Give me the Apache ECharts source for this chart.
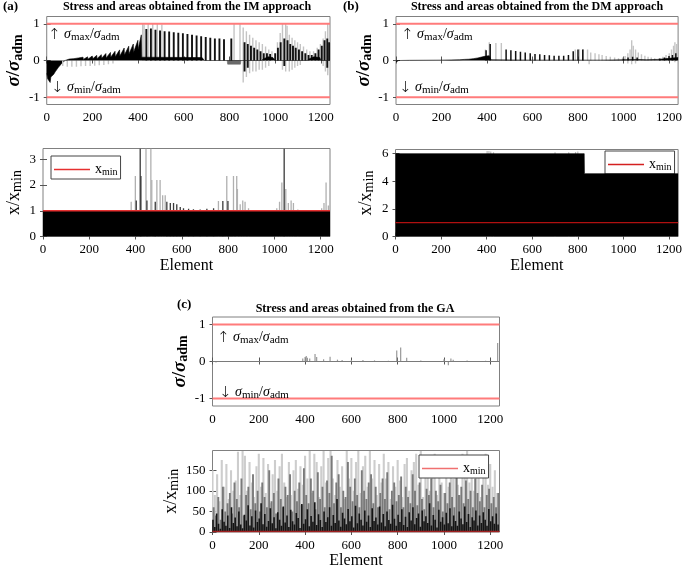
<!DOCTYPE html>
<html><head><meta charset="utf-8">
<script src="https://cdn.jsdelivr.net/npm/echarts@6/dist/echarts.min.js"></script>
<style>html,body{margin:0;padding:0;background:#fff}#c{width:685px;height:570px}</style>
</head><body><div id="c"></div>
<script>
// ---------------- DATA ----------------
const elemRange = [0, 1240];
const xTicks = [0, 200, 400, 600, 800, 1000, 1200];
const stressTicks = [-1, 0, 1];
const aAreaTicks = [0, 1, 2, 3];
const bAreaTicks = [0, 2, 4, 6];
const cAreaTicks = [0, 50, 100, 150];
const sigmaLimits = [1, -1];
const xMinRatio = 1;

// (a) IM approach - stress
const aTopNegArea = [[0,-0.35],[4,-0.5],[10,-0.55],[15,-0.6],[18,-0.45],[25,-0.5],[30,-0.38],[38,-0.3],[45,-0.25],[52,-0.18],[60,-0.12],[68,-0.06],[75,-0.02],[80,0]];
const aTopBlackArea = [[80,0],[82,0.005],[99,0.04],[100,0.01],[119,0.05],[120,0.015],[139,0.07],[140,0.02],[159,0.09],[160,0.03],[179,0.1],[180,0.035],[199,0.12],[200,0.04],[219,0.14],[220,0.05],[239,0.16],[240,0.06],[259,0.19],[260,0.07],[279,0.22],[280,0.09],[299,0.25],[300,0.1],[319,0.29],[320,0.12],[339,0.34],[340,0.15],[359,0.39],[360,0.18],[379,0.45],[380,0.22],[399,0.55],[400,0.3],[414,0.7],[416,0.09],[680,0.08],[690,0],[940,0],[950,0.05],[970,0.1],[990,0.08],[1000,0],[1140,0],[1150,0.05],[1170,0.1],[1195,0.08],[1200,0],[1240,0]];
const aTopDarkNegArea = [[790,0],[792,-0.1],[848,-0.1],[850,0]];
const aTopBlackSpikes = [[436,0.86],[456,0.87],[476,0.84],[496,0.82],[516,0.8],[536,0.79],[556,0.77],[576,0.76],[596,0.74],[616,0.72],[636,0.7],[656,0.68],[676,0.66],[696,0.64],[716,0.62],[736,0.6],[756,0.6],[776,0.58],[808,0.6],[866,0.5],[880,0.45],[894,0.4],[908,0.35],[922,0.3],[936,0.25],[950,0.2],[964,0.2],[978,0.18],[1000,0.2],[1012,0.35],[1024,0.5],[1040,0.6],[1054,0.55],[1066,0.45],[1078,0.4],[1090,0.35],[1104,0.3],[1118,0.25],[1132,0.2],[1146,0.15],[1160,0.15],[1176,0.2],[1190,0.3],[1204,0.4],[1216,0.55],[1228,0.6],[1236,0.5],[866,-0.3],[880,-0.2],[1040,-0.15],[1228,-0.2]];
const aTopGraySpikes = [[420,1.0],[426,0.98],[444,1.0],[464,1.0],[484,1.0],[504,0.98],[820,1.0],[846,1.0],[860,0.9],[874,0.8],[888,0.7],[902,0.62],[916,0.55],[930,0.5],[944,0.45],[958,0.38],[972,0.3],[986,0.25],[1010,0.5],[1022,0.75],[1032,1.0],[1046,1.0],[1052,0.95],[1062,0.7],[1074,0.62],[1086,0.55],[1098,0.5],[1110,0.45],[1124,0.38],[1138,0.3],[1152,0.25],[1168,0.25],[1184,0.35],[1198,0.45],[1210,0.6],[1220,0.8],[1230,1.0],[1238,0.9],
  [70,-0.15],[90,-0.17],[110,-0.17],[130,-0.17],[150,-0.16],[170,-0.15],[190,-0.15],[210,-0.14],[230,-0.13],[250,-0.12],[270,-0.1],[290,-0.08],
  [860,-0.6],[874,-0.45],[888,-0.35],[902,-0.3],[916,-0.3],[930,-0.25],[944,-0.25],[958,-0.2],[972,-0.15],[1032,-0.25],[1046,-0.3],[1062,-0.3],[1074,-0.25],[1086,-0.2],[1098,-0.15],[1110,-0.12],[1210,-0.15],[1220,-0.3],[1230,-0.4],[1238,-0.35]];
// (a) IM approach - areas
const aBotArea = [[0,1],[1240,1]];
const aBotGraySpikes = [[381,1.35],[399,2.35],[445,3.42],[466,3.42],[470,2.2],[492,2.2],[506,2.2],[517,1.6],[528,1.6],[758,1.38],[794,2.35],[823,2.35],[837,2.35],[840,1.85],[852,1.25],[863,1.4],[873,1.35],[888,1.1],[1010,1.1],[1022,1.35],[1032,2.1],[1049,1.85],[1060,1.3],[1072,1.4],[1082,1.3],[1101,1.05],[1204,1.1],[1214,1.3],[1223,2.1],[1233,1.2]];
const aBotDarkSpikes = [[403,1.4],[420,3.42],[423,2.35],[449,1.4],[485,1.35],[535,1.35],[550,1.3],[564,1.3],[578,1.25],[593,1.15],[607,1.1],[629,1.08],[650,1.06],[679,1.05],[708,1.08],[737,1.1],[777,1.38],[799,1.38],[1042,3.42]];

// (b) DM approach - stress
const bTopBlackArea = [[0,-0.04],[8,-0.05],[12,0],[60,0.005],[200,0.01],[280,0.02],[300,0.03],[320,0.035],[340,0.05],[360,0.07],[380,0.1],[395,0.12],[410,0.13],[415,0.14],[418,0.02],[600,0.01],[900,0.01],[1000,0.02],[1060,0.03],[1100,0.02],[1150,0.03],[1200,0.06],[1240,0.08]];
const bTopBlackSpikes = [[396,0.28],[414,0.45],[484,0.3],[505,0.28],[526,0.26],[547,0.24],[568,0.22],[590,0.2],[611,0.18],[632,0.17],[653,0.15],[674,0.14],[695,0.13],[716,0.13],[737,0.13],[758,0.15],[779,0.25],[800,0.3],[821,0.3],[1000,0.05],[1020,0.08],[1040,0.1],[1060,0.08],[1160,0.05],[1180,0.08],[1200,0.12],[1215,0.15],[1230,0.2]];
const bTopGraySpikes = [[393,0.3],[410,0.5],[439,0.48],[463,0.48],[788,0.3],[806,0.31],[823,0.31],[842,0.3],[856,0.22],[875,0.2],[892,0.17],[906,0.15],[924,0.12],[942,0.1],[961,0.08],[978,0.06],[996,0.08],[1007,0.12],[1019,0.2],[1029,0.3],[1036,0.55],[1043,0.4],[1053,0.3],[1065,0.22],[1079,0.17],[1094,0.13],[1108,0.1],[1122,0.08],[1137,0.06],[1158,0.07],[1173,0.1],[1187,0.15],[1201,0.2],[1211,0.3],[1220,0.4],[1226,0.5],[1234,0.45],[849,-0.1],[1019,-0.08],[1036,-0.1],[1053,-0.08],[1226,-0.05]];
// (b) DM approach - areas
const bBotArea = [[0,6],[828,6],[829,4.55],[1240,4.55]];
const bBotGraySpikes = [[402,6.2],[410,6.2],[418,6.15],[430,6.1],[700,6.1],[760,6.1],[790,6.12],[800,6.15]];

// (c) GA - stress
const cTopSpikes = [[15,-0.03],[120,0.01],[250,0.01],[390,0.08],[400,0.12],[405,0.15],[410,0.1],[420,0.08],[443,0.2],[450,0.12],[480,0.06],[508,0.13],[540,0.05],[560,0.04],[600,0.04],[650,0.04],[700,0.03],[760,0.02],[796,0.3],[813,0.38],[839,0.1],[900,0.03],[1000,0.06],[1019,-0.1],[1030,0.08],[1040,0.05],[1100,0.03],[1180,0.02],[1232,0.5]];
// (c) GA - areas (sampled elements: start + i*step)
const cLightStart = 0, cLightStep = 10;
const cLightVals = [150,90,140,75,175,110,165,80,150,100,
 125,195,90,197,185,100,170,120,85,160,
 190,110,180,95,165,70,140,175,100,160,
 190,120,85,170,90,150,175,105,160,115,
 185,130,197,95,190,170,85,160,197,120,
 180,197,130,90,175,110,160,80,197,130,
 180,100,170,197,95,160,185,110,197,130,
 175,90,165,120,190,130,170,80,160,110,
 175,125,85,165,180,100,150,170,190,115,
 197,85,160,175,100,150,190,90,165,120,
 95,170,110,160,130,185,115,90,190,160,
 197,120,175,100,150,170,85,160,190,115,
 165,110,150,95];
const cMidStart = 5, cMidStep = 10;
const cMidVals = [60,40,85,30,110,50,70,95,45,120,
 80,60,130,40,90,110,55,140,70,100,
 50,120,85,60,150,75,95,45,130,80,
 60,110,90,140,50,100,75,120,65,155,
 90,70,130,100,55,145,80,110,60,125,
 95,185,70,120,140,60,100,85,170,110,
 75,130,90,60,150,100,80,120,140,70,
 110,60,95,130,80,145,55,100,120,75,
 90,135,60,110,85,70,140,100,65,120,
 80,55,105,90,130,60,100,75,115,50,
 95,70,120,85,60,140,90,110,70,125,
 80,100,60,130,95,75,115,60,90,105,
 70,85,60,95];
const cDarkStart = 2, cDarkStep = 8;
const cDarkVals = [30,12,45,20,8,55,25,15,40,10,
 60,22,35,14,50,18,9,42,28,65,
 16,38,11,52,24,33,70,19,44,13,
 27,58,21,36,9,48,30,15,62,23,
 40,12,54,26,18,46,34,10,68,20,
 31,55,14,39,25,72,17,43,29,12,
 50,24,36,60,15,41,22,80,28,13,
 47,33,19,56,26,38,11,64,21,45,
 30,16,52,25,40,12,58,27,35,18,
 62,23,44,14,50,29,20,66,32,15,
 42,24,55,17,37,12,48,28,60,19,
 34,45,13,52,26,38,22,70,16,41,
 30,11,54,25,36,18,47,21,58,14,
 40,27,15,50,33,19,62,24,44,12,
 36,28,52,16,40,22,48,30,15,56,
 26,38,20,45,18];

// ---------------- CHART ----------------
const FONT = 'Liberation Serif';
const toPairs = (vals, start, step) => vals.map((v, i) => [start + i * step, v]);
const hline = (y) => [[elemRange[0], y], [elemRange[1], y]];

const grids = [
  {left:42.5, top:16.5, width:287.5, height:88},
  {left:42.5, top:148.5, width:287.5, height:88},
  {left:396, top:16.5, width:286, height:88},
  {left:395.5, top:149.5, width:287, height:87},
  {left:212.5, top:317, width:287, height:89},
  {left:212.5, top:450.5, width:287, height:87}
].map(g => Object.assign(g, {show:true, borderColor:'#808080', borderWidth:1, backgroundColor:'#fff'}));

const subRich = (mainSize, italic, bold) => ({
  s:{fontSize:mainSize, fontFamily:FONT, fontStyle:italic?'italic':'normal', fontWeight:bold?'bold':'normal', lineHeight:mainSize+1, verticalAlign:'top', color:'#000'},
  n:{fontSize:mainSize, fontFamily:FONT, lineHeight:mainSize+1, verticalAlign:'top', color:'#000', fontWeight:bold?'bold':'normal'},
  sub:{fontSize:Math.round(mainSize*0.75), fontFamily:FONT, lineHeight:Math.round(mainSize*0.75), padding:[Math.round(mainSize*0.5),0,0,0], verticalAlign:'bottom', color:'#000', fontWeight:bold?'bold':'normal'}
});
const stressName = '{s|σ}{n|/}{s|σ}{sub|adm}';
const areaName = '{n|x/x}{sub|min}';
const plainNum = v => String(v);

function xAxis(i, named) {
  return {type:'value', gridIndex:i, min:elemRange[0], max:elemRange[1], position:'bottom',
    axisLine:{show:false}, splitLine:{show:false},
    axisTick:{show:true, inside:true, length:4, customValues:xTicks, lineStyle:{color:'#555'}},
    axisLabel:{customValues:xTicks, formatter:plainNum, fontFamily:FONT, fontSize:13, color:'#000', margin:7},
    name: named ? 'Element' : '', nameLocation:'middle', nameGap:21,
    nameTextStyle:{fontFamily:FONT, fontSize:16, color:'#000'}};
}
function xAxisTop(i) {
  return {type:'value', gridIndex:i, min:elemRange[0], max:elemRange[1], position:'top',
    axisLine:{show:false}, splitLine:{show:false}, axisLabel:{show:false},
    axisTick:{show:true, inside:true, length:3, customValues:xTicks, lineStyle:{color:'#555'}}};
}
function yAxis(i, min, max, ticks, name, gap, isStress) {
  return {type:'value', gridIndex:i, min, max, position:'left',
    axisLine:{show:false}, splitLine:{show:false},
    axisTick:{show:true, inside:true, length:4, customValues:ticks, lineStyle:{color:'#555'}},
    axisLabel:{customValues:ticks, formatter:plainNum, fontFamily:FONT, fontSize:13, color:'#000', margin:7},
    name, nameLocation:'middle', nameRotate:90, nameGap:gap,
    nameTextStyle:{rich: isStress ? subRich(19,true,true) : subRich(18,false,false)}};
}
function yAxisRight(i, min, max, ticks) {
  return {type:'value', gridIndex:i, min, max, position:'right',
    axisLine:{show:false}, splitLine:{show:false}, axisLabel:{show:false},
    axisTick:{show:true, inside:true, length:3, customValues:ticks, lineStyle:{color:'#555'}}};
}

function spikes(ax, data, color, w, z) {
  return {type:'custom', xAxisIndex:ax, yAxisIndex:ax, data, clip:true, z:z||2, silent:true,
    encode:{x:0, y:1},
    renderItem:(params, api) => {
      const a = api.coord([api.value(0), 0]);
      const b = api.coord([api.value(0), api.value(1)]);
      return {type:'rect', shape:{x:a[0]-w/2, y:Math.min(a[1],b[1]), width:w, height:Math.abs(a[1]-b[1])}, style:{fill:color}};
    }};
}
function area(ax, data, color, z) {
  return {type:'line', xAxisIndex:ax, yAxisIndex:ax, data, symbol:'none', silent:true, z:z||1,
    lineStyle:{width:0.6, color}, areaStyle:{color, opacity:1}};
}
function limitLine(ax, y, color, w, name) {
  return {type:'line', name, xAxisIndex:ax, yAxisIndex:ax, data:hline(y), symbol:'none', silent:true, z:6,
    lineStyle:{width:w, color}, itemStyle:{color}};
}

const series = [
  // a top
  area(0, aTopNegArea, '#000'), area(0, aTopBlackArea, '#000', 4), area(0, aTopDarkNegArea, '#6a6a6a'),
  spikes(0, aTopGraySpikes, '#c4c4c4', 1.4, 2), spikes(0, aTopBlackSpikes, '#111', 1.9, 3),
  limitLine(0, sigmaLimits[0], '#ff7b7b', 2), limitLine(0, sigmaLimits[1], '#ff7b7b', 2),
  // a bottom
  area(1, aBotArea, '#000', 5),
  spikes(1, aBotGraySpikes, '#b0b0b0', 1.3, 2), spikes(1, aBotDarkSpikes, '#3a3a3a', 1.3, 3),
  limitLine(1, xMinRatio, '#e63030', 1.5, 'xa'),
  // b top
  area(2, bTopBlackArea, '#000', 4),
  spikes(2, bTopGraySpikes, '#c4c4c4', 1.4, 2), spikes(2, bTopBlackSpikes, '#111', 1.5, 3),
  limitLine(2, sigmaLimits[0], '#ff7b7b', 2), limitLine(2, sigmaLimits[1], '#ff7b7b', 2),
  // b bottom
  area(3, bBotArea, '#000', 5), spikes(3, bBotGraySpikes, '#bbb', 1.2, 2),
  limitLine(3, xMinRatio, '#b01010', 1.2, 'xb'),
  // c top
  limitLine(4, 0, '#7a7a7a', 1), spikes(4, cTopSpikes, '#999', 1.2, 3),
  limitLine(4, sigmaLimits[0], '#ff7b7b', 2), limitLine(4, sigmaLimits[1], '#ff7b7b', 2),
  // c bottom
  spikes(5, toPairs(cLightVals, cLightStart, cLightStep), '#cdcdcd', 2.1, 2),
  spikes(5, toPairs(cMidVals, cMidStart, cMidStep), '#7a7a7a', 1.9, 3),
  spikes(5, toPairs(cDarkVals, cDarkStart, cDarkStep), '#141414', 1.6, 4),
  limitLine(5, xMinRatio, '#a02020', 1.5, 'xc')
];

const legendRich = {
  x:{fontSize:14, fontFamily:FONT, lineHeight:15, verticalAlign:'top', color:'#000'},
  sub:{fontSize:10, fontFamily:FONT, lineHeight:10, padding:[8,0,0,0], verticalAlign:'bottom', color:'#000'}
};
const mkLegend = (name, left, top, color) => ({
  data:[name], left, top, orient:'horizontal', selectedMode:false,
  backgroundColor:'#fff', borderColor:'#444', borderWidth:1, borderRadius:0,
  padding:[3,3,2,3], itemWidth:36, itemHeight:1.5, itemGap:4, icon:'rect',
  itemStyle:{color},
  formatter:() => '{x|x}{sub|min}', textStyle:{fontFamily:FONT, fontSize:14, color:'#000', rich:legendRich}
});

const annotRich = {
  a:{fontSize:15, fontFamily:'DejaVu Sans', fontWeight:'lighter', lineHeight:15, verticalAlign:'top', fill:'#000'},
  s:{fontSize:14, fontFamily:FONT, fontStyle:'italic', lineHeight:15, verticalAlign:'top', fill:'#000'},
  n:{fontSize:14, fontFamily:FONT, lineHeight:15, verticalAlign:'top', fill:'#000'},
  sub:{fontSize:11, fontFamily:FONT, lineHeight:11, padding:[8,0,0,0], verticalAlign:'bottom', fill:'#000'}
};
const annot = (x, y, up) => ({type:'text', x, y, z:100, style:{
  text: (up ? '{a|↑}{n| }{s|σ}{sub|max}{n|/}{s|σ}{sub|adm}' : '{a|↓}{n| }{s|σ}{sub|min}{n|/}{s|σ}{sub|adm}'),
  rich:annotRich, verticalAlign:'middle', align:'left'}});
const label = (x, y, text, size, align) => ({type:'text', x, y, z:100, style:{
  text, font:'bold '+size+'px "Liberation Serif"', fill:'#000', align:align||'left', verticalAlign:'middle'}});

const yDefs = [
  [0, -1.2, 1.2, stressTicks, stressName, 18, true],
  [1, 0, 3.42, aAreaTicks, areaName, 19, false],
  [2, -1.2, 1.2, stressTicks, stressName, 18, true],
  [3, 0, 6.3, bAreaTicks, areaName, 19, false],
  [4, -1.2, 1.2, stressTicks, stressName, 18, true],
  [5, 0, 198, cAreaTicks, areaName, 31, false]
];
const option = {
  animation:false,
  backgroundColor:'#fff',
  grid:grids,
  xAxis:[xAxis(0,false), xAxis(1,true), xAxis(2,false), xAxis(3,true), xAxis(4,false), xAxis(5,true),
         xAxisTop(0), xAxisTop(1), xAxisTop(2), xAxisTop(3), xAxisTop(4), xAxisTop(5)],
  yAxis:yDefs.map(d => yAxis(...d)).concat(yDefs.map(d => yAxisRight(d[0], d[1], d[2], d[3]))),
  legend:[mkLegend('xa', 51, 156, '#e63030'), mkLegend('xb', 605, 151, '#d42020'), mkLegend('xc', 419, 455, '#f07070')],
  graphic:[
    label(3, 7, '(a)', 13), label(187, 7, 'Stress and areas obtained from the IM approach', 12, 'center'),
    label(343, 7, '(b)', 13), label(537, 7, 'Stress and areas obtained from the DM approach', 12, 'center'),
    label(177, 305, '(c)', 13), label(355, 309, 'Stress and areas obtained from the GA', 12, 'center'),
    annot(48, 35, true), annot(51, 88, false),
    annot(401, 35, true), annot(399, 88, false),
    annot(217, 338, true), annot(219, 393, false)
  ],
  series
};
const chart = echarts.init(document.getElementById('c'), null, {renderer:'canvas'});
chart.setOption(option);
</script></body></html>
